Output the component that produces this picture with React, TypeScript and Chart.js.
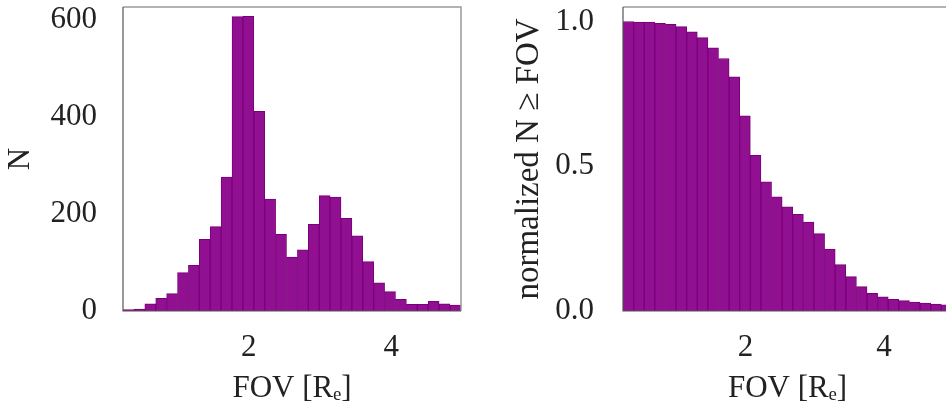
import React, { useEffect, useRef } from "react";
import { Chart, registerables } from "chart.js";
Chart.register(...registerables);

// FOV bin centres (shared by both panels)
const binCenters = [
  0.312, 0.465, 0.618, 0.771, 0.924, 1.077, 1.230, 1.383, 1.536, 1.689, 1.842,
  1.995, 2.148, 2.301, 2.454, 2.607, 2.760, 2.913, 3.066, 3.219, 3.372, 3.525,
  3.678, 3.831, 3.984, 4.137, 4.290, 4.443, 4.596, 4.749, 4.902,
];
// left panel: histogram counts
const counts = [
  3, 4, 15, 26, 36, 79, 94, 148, 174, 276, 607, 608, 412, 231, 158, 111, 126,
  179, 238, 235, 191, 155, 102, 58, 40, 24, 14, 14, 20, 15, 12,
];
// right panel: normalized N >= FOV
const cumulative = [
  1.0, 0.998, 0.998, 0.994, 0.99, 0.982, 0.964, 0.944, 0.909, 0.872, 0.809,
  0.674, 0.538, 0.446, 0.394, 0.36, 0.334, 0.307, 0.267, 0.214, 0.16, 0.119,
  0.084, 0.061, 0.049, 0.04, 0.036, 0.031, 0.027, 0.024, 0.021,
];
const xTicks = [2, 4];
const countTicks = [0, 200, 400, 600];
const fracTicks = [0.0, 0.5, 1.0];

const X_MIN = 0.235;
const X_MAX = 4.98;

const FONT_FAMILY = "'Liberation Serif', 'DejaVu Serif', serif";
const TEXT = "#222222";
const FILL = "#910f91";
const EDGE = "#7a007a";

const framePlugin = {
  id: "frame",
  afterDatasetsDraw(chart: any) {
    const { ctx, chartArea } = chart;
    const { left, right, top, bottom } = chartArea;
    ctx.save();
    ctx.strokeStyle = "#9a9a9a";
    ctx.lineWidth = 1.5;
    ctx.beginPath();
    ctx.moveTo(left, top);
    ctx.lineTo(right, top);
    ctx.lineTo(right, bottom);
    ctx.stroke();
    ctx.strokeStyle = "#555555";
    ctx.lineWidth = 1.2;
    ctx.beginPath();
    ctx.moveTo(left, top);
    ctx.lineTo(left, bottom);
    ctx.lineTo(right, bottom);
    ctx.stroke();
    ctx.restore();
  },
};

function makeConfig(opts: {
  values: number[];
  yMax: number;
  yTicks: number[];
  yFmt: (v: number) => string;
  yTitle: string;
  yTitleSize: number;
  yWidth: number;
  yTickPad: number;
  yTitlePad: number;
  padRight: number;
}): any {
  const font = { family: FONT_FAMILY, size: 31 };
  return {
    type: "bar",
    data: {
      datasets: [
        {
          data: binCenters.map((x, i) => ({ x, y: opts.values[i] })),
          backgroundColor: FILL,
          borderColor: EDGE,
          borderWidth: 1,
          barPercentage: 1,
          categoryPercentage: 1,
        },
      ],
    },
    options: {
      animation: false,
      responsive: false,
      devicePixelRatio: 1,
      layout: { padding: { top: 7, right: opts.padRight, bottom: 0, left: 0 } },
      plugins: { legend: { display: false }, tooltip: { enabled: false } },
      scales: {
        x: {
          type: "linear",
          min: X_MIN,
          max: X_MAX,
          offset: false,
          grid: { display: false, drawTicks: false },
          border: { display: false },
          afterBuildTicks: (s: any) => {
            s.ticks = xTicks.map((v) => ({ value: v }));
          },
          afterFit: (s: any) => {
            s.height = 99;
            s.paddingLeft = 0;
            s.paddingRight = 0;
          },
          ticks: {
            font,
            color: TEXT,
            padding: 18,
            maxRotation: 0,
            autoSkip: false,
            callback: (v: any) => String(v),
          },
          title: {
            display: true,
            text: "FOV [R\u2091]",
            font,
            color: TEXT,
            padding: { top: 0, bottom: 3 },
          },
        },
        y: {
          type: "linear",
          min: 0,
          max: opts.yMax,
          grid: { display: false, drawTicks: false },
          border: { display: false },
          afterBuildTicks: (s: any) => {
            s.ticks = opts.yTicks.map((v) => ({ value: v }));
          },
          afterFit: (s: any) => {
            s.width = opts.yWidth;
            s.paddingTop = 0;
            s.paddingBottom = 0;
          },
          ticks: {
            font,
            color: TEXT,
            padding: opts.yTickPad,
            autoSkip: false,
            callback: (v: any) => opts.yFmt(Number(v)),
          },
          title: {
            display: true,
            text: opts.yTitle,
            font: { family: FONT_FAMILY, size: opts.yTitleSize },
            color: TEXT,
            padding: { top: opts.yTitlePad, bottom: 0 },
          },
        },
      },
    },
    plugins: [framePlugin],
  };
}

export default function App() {
  const leftRef = useRef<HTMLCanvasElement>(null);
  const rightRef = useRef<HTMLCanvasElement>(null);

  useEffect(() => {
    const c1 = new Chart(
      leftRef.current as HTMLCanvasElement,
      makeConfig({
        values: counts,
        yMax: 627,
        yTicks: countTicks,
        yFmt: (v) => String(v),
        yTitle: "N",
        yTitleSize: 31,
        yWidth: 123,
        yTickPad: 26,
        yTitlePad: 2,
        padRight: 19,
      })
    );
    const c2 = new Chart(
      rightRef.current as HTMLCanvasElement,
      makeConfig({
        values: cumulative,
        yMax: 1.05,
        yTicks: fracTicks,
        yFmt: (v) => v.toFixed(1),
        yTitle: "normalized N \u2265 FOV",
        yTitleSize: 33,
        yWidth: 143,
        yTickPad: 29,
        yTitlePad: 30,
        padRight: 18,
      })
    );
    return () => {
      c1.destroy();
      c2.destroy();
    };
  }, []);

  return (
    <div
      style={{
        position: "fixed",
        left: 0,
        top: 0,
        width: 946,
        height: 410,
        overflow: "hidden",
        background: "#ffffff",
      }}
    >
      <canvas
        ref={leftRef}
        width={480}
        height={410}
        style={{ position: "absolute", left: 0, top: 0, width: 480, height: 410 }}
      />
      <canvas
        ref={rightRef}
        width={490}
        height={410}
        style={{ position: "absolute", left: 480, top: 0, width: 490, height: 410 }}
      />
    </div>
  );
}
